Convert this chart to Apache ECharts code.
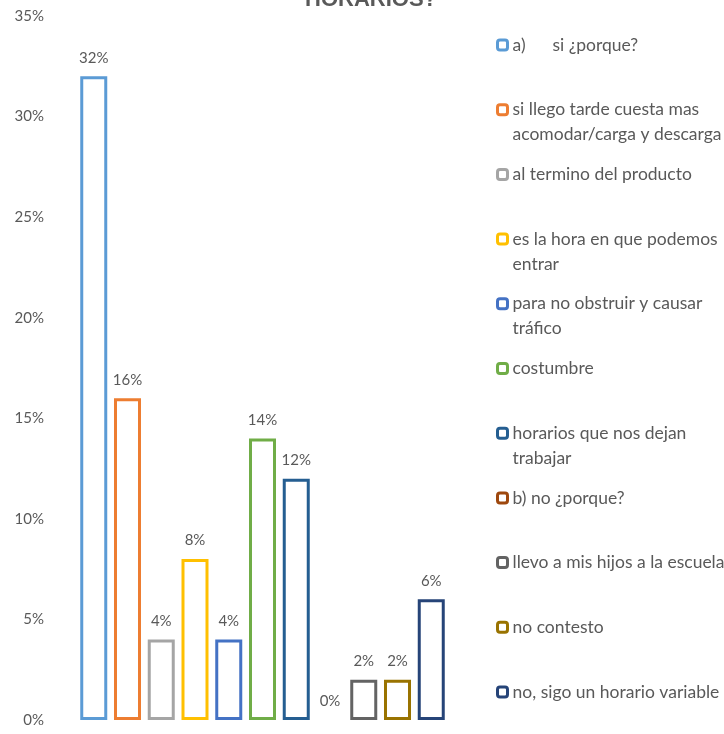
<!DOCTYPE html>
<html>
<head>
<meta charset="utf-8">
<script src="https://cdn.jsdelivr.net/npm/echarts@6/dist/echarts.min.js"></script>
<style>
html,body{margin:0;padding:0;background:#fff;}
#chart{width:724px;height:734px;}
</style>
</head>
<body>
<div id="chart"></div>
<script>
// Data
var seriesNames = [
  "a)      si ¿porque?",
  "si llego tarde cuesta mas\nacomodar/carga y descarga",
  "al termino del producto",
  "es la hora en que podemos\nentrar",
  "para no obstruir y causar\ntráfico",
  "costumbre",
  "horarios que nos dejan\ntrabajar",
  "b) no ¿porque?",
  "llevo a mis hijos a la escuela",
  "no contesto",
  "no, sigo un horario variable"
];
var seriesValues = [32, 16, 4, 8, 4, 14, 12, 0, 2, 2, 6];
var seriesColors = ["#5B9BD5", "#ED7D31", "#A5A5A5", "#FFC000", "#4472C4", "#70AD47",
                    "#255E91", "#9E480E", "#636363", "#997300", "#264478"];
var categories = [""];
var yMin = 0, yMax = 35, yStep = 5;
var titleText = "HORARIOS?";

var FONT = "Lato, 'Liberation Sans', sans-serif";
var TXT = "#595959";
var LH = 25;

var series = [];
var legends = [];
seriesNames.forEach(function (name, i) {
  series.push({
    name: name,
    type: "bar",
    data: [seriesValues[i]],
    barWidth: 27,
    barGap: "25%",
    itemStyle: {
      color: "#ffffff",
      borderColor: seriesColors[i],
      borderWidth: seriesValues[i] === 0 ? 0 : 3
    },
    label: {
      show: true,
      position: "top",
      distance: 11,
      formatter: "{c}%",
      color: TXT,
      fontFamily: FONT,
      fontSize: 15
    },
    emphasis: { disabled: true }
  });
  var twoLine = name.indexOf("\n") >= 0;
  var center = 45 + 64.7 * i;
  legends.push({
    data: [name],
    orient: "vertical",
    left: 496,
    top: twoLine ? center - 1.5 * LH : center - 0.5 * LH,
    itemWidth: 10,
    itemHeight: 10,
    itemGap: 0,
    padding: 0,
    selectedMode: false,
    formatter: twoLine ? function (n) { return "\n" + n; } : "{name}",
    itemStyle: {
      color: "#ffffff",
      borderColor: seriesColors[i],
      borderWidth: 3
    },
    textStyle: {
      color: TXT,
      fontFamily: FONT,
      fontSize: 17.5,
      lineHeight: LH
    }
  });
});

var chart = echarts.init(document.getElementById("chart"), null, { renderer: "canvas" });
chart.setOption({
  animation: false,
  backgroundColor: "#ffffff",
  title: {
    text: titleText,
    left: 366,
    top: -16,
    textAlign: "center",
    textStyle: { color: TXT, fontFamily: "'Liberation Sans', sans-serif", fontWeight: "bold", fontSize: 22 }
  },
  grid: { left: 50, right: 249, top: 16, bottom: 14, containLabel: false },
  xAxis: {
    type: "category",
    data: categories,
    axisLine: { show: false },
    axisTick: { show: false },
    axisLabel: { show: false }
  },
  yAxis: {
    type: "value",
    min: yMin,
    max: yMax,
    interval: yStep,
    axisLine: { show: false },
    axisTick: { show: false },
    splitLine: { show: false },
    axisLabel: {
      formatter: "{value}%",
      color: TXT,
      fontFamily: FONT,
      fontSize: 15,
      margin: 6
    }
  },
  legend: legends,
  series: series
});
</script>
</body>
</html>
